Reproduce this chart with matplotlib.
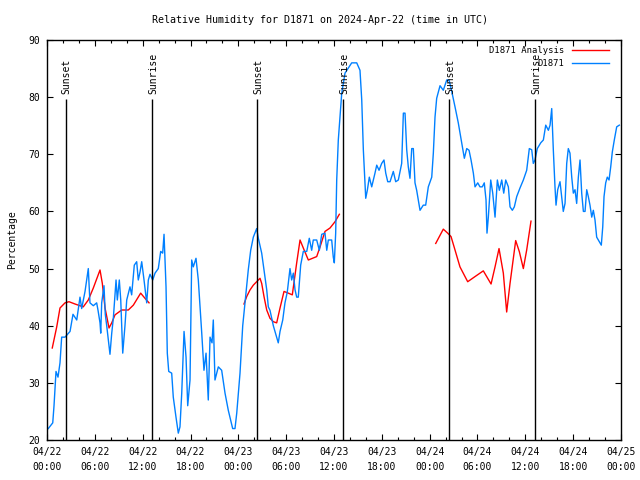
import numpy as np
import matplotlib
matplotlib.use("Agg")
import matplotlib.pyplot as plt
from matplotlib.ticker import MultipleLocator

# ore dall'inizio (2024-04-22 00:00 UTC) e umidita' osservata D1871
obs_h = [0.16, 0.72, 0.88, 1.13, 1.38, 1.63, 1.84, 2.26, 2.89, 3.26, 3.73, 4.14, 4.35, 4.77,
         4.98, 5.18, 5.39, 5.81, 6.23, 6.40, 6.65, 6.74, 6.86, 7.15, 7.31, 7.49, 7.90, 8.12,
         8.32, 8.66, 8.82, 9.07, 9.25, 9.50, 9.78, 10.0, 10.41, 10.62, 10.95, 11.25, 11.45,
         11.67, 11.88, 12.17, 12.51, 12.71, 12.92, 13.26, 13.55, 13.96, 14.26, 14.51, 14.68,
         14.93, 15.09, 15.27, 15.64, 15.84, 16.18, 16.47, 16.68, 16.90, 17.19, 17.44, 17.65,
         17.94, 18.15, 18.35, 18.69, 18.98, 19.41, 19.69, 19.95, 20.23, 20.45, 20.70, 20.86,
         21.07, 21.49, 21.91, 22.33, 22.74, 23.29, 23.58, 23.80, 24.21, 24.55, 24.84, 25.25,
         25.55, 25.88, 26.30, 26.51, 26.93, 27.22, 27.56, 27.76, 27.97, 28.39, 28.81, 29.01,
         29.23, 29.57, 29.85, 30.14, 30.48, 30.69, 30.90, 31.11, 31.32, 31.52, 31.82, 32.15,
         32.58, 32.90, 33.20, 33.40, 33.83, 34.16, 34.46, 34.87, 35.09, 35.29, 35.71, 35.91,
         36.04, 36.21, 36.34, 36.54, 36.97, 37.38, 38.22, 38.85, 39.26, 39.48, 39.68, 39.98,
         40.18, 40.43, 40.73, 41.14, 41.36, 41.65, 41.98, 42.27, 42.49, 42.74, 43.03, 43.44,
         43.74, 44.07, 44.49, 44.70, 44.91, 45.12, 45.32, 45.53, 45.75, 45.95, 46.16, 46.37,
         46.79, 47.20, 47.50, 47.83, 48.26, 48.46, 48.67, 48.88, 49.30, 49.71, 50.14, 50.43,
         50.77, 51.18, 51.59, 52.02, 52.35, 52.65, 52.94, 53.19, 53.48, 53.69, 54.03, 54.31,
         54.60, 54.85, 55.07, 55.19, 55.36, 55.66, 55.91, 56.20, 56.49, 56.74, 57.04, 57.29,
         57.54, 57.87, 58.08, 58.37, 58.62, 58.92, 59.33, 59.75, 60.17, 60.50, 60.80, 61.00,
         61.21, 61.50, 61.93, 62.26, 62.56, 62.89, 63.10, 63.31, 63.51, 63.72, 63.85, 64.06,
         64.35, 64.56, 64.76, 64.98, 65.19, 65.39, 65.60, 65.82, 66.02, 66.23, 66.44, 66.65,
         66.86, 67.07, 67.28, 67.49, 67.70, 67.90, 68.11, 68.33, 68.53, 68.74, 68.95, 69.28,
         69.53, 69.71, 69.87, 70.08, 70.28, 70.50, 70.71, 70.91, 71.16, 71.46, 71.79]
obs_rh = [22, 23, 26, 32, 31, 33.5, 38, 38, 39, 42, 41, 45, 43, 46,
          48, 50, 44, 43.5, 44, 42.7, 40.5, 38.7, 44, 47, 42, 40, 35, 38.7,
          41.3, 48, 44.5, 48, 44.5, 35.2, 40, 44.5, 46.8, 45.4, 50.6, 51.2, 48,
          49.4, 51.2, 48, 44, 48, 49, 48, 49.2, 50, 53, 52.7, 56,
          46.8, 35.2, 32, 31.7, 27.5, 24, 21.2, 22.3, 28.2, 39, 34.5, 26,
          30.5, 51.5, 50.3, 51.8, 48, 38.7, 32.2, 35.2, 27, 38, 37, 41,
          30.5, 32.8, 32.2, 28.2, 25.2, 22, 22, 24.7, 31.7, 40, 44, 49.8,
          53.2, 55.5, 57, 55.3, 52.7, 49.8, 46.3, 43.3, 42.7, 40, 38, 37,
          39, 41, 44, 45.9, 50, 48, 49.2, 46.3, 45, 45, 50.6, 53,
          53, 55.3, 53.2, 55, 55, 53.2, 56, 56.2, 53.2, 55, 55, 52,
          51, 56.2, 65.5, 72.5, 80.7, 84.2, 86, 86, 84.7, 79.5, 70.8, 62.3,
          63.7, 66, 64.3, 66.7, 68.1, 67.2, 68.4, 69, 66.7, 65.2, 65.2, 67,
          65.2, 65.5, 68.4, 77.2, 77.2, 70.8, 67.8, 65.8, 71, 71, 65, 63.7,
          60.2, 61.1, 61.1, 64.3, 66, 70.2, 76.5, 79.8, 82, 81.2, 83, 83,
          81, 78.3, 75.5, 72, 69.3, 71, 70.7, 69, 66.7, 64.3, 65, 64.3,
          64.3, 65, 62, 56.2, 59, 65.5, 63.2, 59, 65.5, 63.7, 65.5, 63.2,
          65.5, 64.3, 60.8, 60.2, 60.8, 62.6, 64.1, 65.5, 67.2, 71, 70.8, 68.4,
          69, 71, 72, 72.5, 75.1, 74.2, 75.1, 78, 70.8, 64.3, 61.1, 63.8,
          65.2, 62.6, 60, 61.4, 68.4, 71, 70.2, 66, 63.2, 63.8, 61.4, 66,
          69, 63.2, 60, 60, 63.8, 62.6, 61.1, 59, 60.2, 58.5, 55.5, 54.7,
          54.1, 57.3, 62.6, 65, 66, 65.5, 67.8, 70.4, 72.5, 74.8, 75.1]

# analisi (tre tratti separati)
ana_h = [[0.66, 1.22, 1.63, 2.26, 2.76, 3.51, 4.55, 5.18, 5.81, 6.65, 6.94, 7.28, 7.78,
          8.12, 8.53, 9.37, 10.2, 10.83, 11.75, 12.29, 12.8],
         [24.71, 25.05, 25.46, 25.88, 26.3, 26.72, 26.93, 27.22, 27.56, 27.97, 28.39, 28.81,
          29.23, 29.73, 30.27, 30.77, 31.32, 31.74, 32.15, 32.78, 33.83, 34.25, 34.87, 35.5,
          36.13, 36.67],
         [48.76, 49.71, 50.26, 50.68, 51.18, 51.8, 52.77, 53.69, 54.73, 55.7, 56.2, 56.7,
          57.24, 57.66, 58.08, 58.79, 59.25, 59.75, 60.17, 60.71]]
ana_rh = [[36.1, 39.8, 43.1, 44, 44.2, 43.8, 43.3, 44.5, 46.6, 49.75, 47.4, 43.1, 39.6,
           40.5, 41.9, 42.75, 42.75, 43.6, 45.7, 44.8, 44.0],
          [43.8, 45.1, 46.25, 47.1, 47.7, 48.3, 47.4, 45.1, 42.75, 41.3, 40.7, 40.5,
           43.1, 46, 45.7, 45.4, 51, 55, 53.6, 51.5, 52.1, 53.8, 56.5, 57.1,
           58.2, 59.5],
          [54.4, 56.9, 56.2, 55.6, 53.25, 50.3, 47.7, 48.6, 49.6, 47.3, 50.3, 53.5,
           49.2, 42.4, 47.4, 54.9, 52.95, 50, 53.25, 58.3]]

# alba / tramonto
sun_h = [2.34, 13.21, 26.38, 37.17, 50.47, 61.25]
sun_lab = ["Sunset", "Sunrise", "Sunset", "Sunrise", "Sunset", "Sunrise"]

tick_h = np.arange(0, 73, 6)
tick_lab = ["04/22\n00:00", "04/22\n06:00", "04/22\n12:00", "04/22\n18:00",
            "04/23\n00:00", "04/23\n06:00", "04/23\n12:00", "04/23\n18:00",
            "04/24\n00:00", "04/24\n06:00", "04/24\n12:00", "04/24\n18:00",
            "04/25\n00:00"]

plt.rcParams["font.family"] = ["DejaVu Sans Mono"]
plt.rcParams["font.size"] = 7

fig = plt.figure(figsize=(6.4, 4.8), dpi=100)
ax = fig.add_axes([47 / 640, 40 / 480, 574 / 640, 400 / 480])

for i in range(len(ana_h)):
    ax.plot(ana_h[i], ana_rh[i], color="#ff0000", lw=1.0,
            label="D1871 Analysis" if i == 0 else None)
ax.plot(obs_h, obs_rh, color="#0080ff", lw=1.0, label="D1871")

ax.vlines(sun_h, 20, 79.6, color="black", lw=1.0)
for t, s in zip(sun_h, sun_lab):
    ax.text(t + 0.15, 80.6, s, rotation=90, ha="center", va="bottom", fontsize=7)

ax.set_xlim(0, 72)
ax.set_ylim(20, 90)
ax.set_xticks(tick_h)
ax.set_xticklabels(tick_lab, linespacing=1.6)
ax.xaxis.set_minor_locator(MultipleLocator(2))
ax.yaxis.set_major_locator(MultipleLocator(10))
ax.tick_params(which="both", direction="in", top=True, right=True, width=0.8)
ax.tick_params(which="major", length=4, pad=5)
ax.tick_params(which="minor", length=2.2)
for sp in ax.spines.values():
    sp.set_linewidth(1.0)

ax.legend(loc="upper right", bbox_to_anchor=((609 - 47) / 574, (440 - 46) / 400),
          frameon=False, markerfirst=False, fontsize=6.4,
          handlelength=4.2, handletextpad=0.8, labelspacing=0.5,
          borderaxespad=0, borderpad=0)

fig.text(0.5, 1 - 20 / 480, "Relative Humidity for D1871 on 2024-Apr-22 (time in UTC)",
         ha="center", va="center", fontsize=7.2)
fig.text(12 / 640, 0.5, "Percentage", rotation=90, ha="center", va="center", fontsize=7)

fig.savefig("out.png", dpi=100)
